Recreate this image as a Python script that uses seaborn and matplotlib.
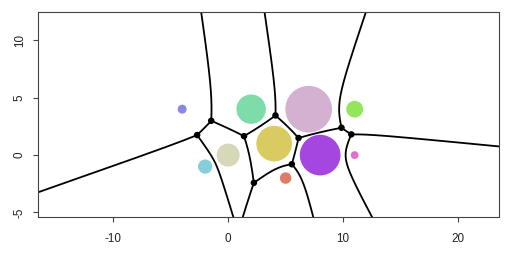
import numpy as np
import matplotlib
matplotlib.use("Agg")
import matplotlib.pyplot as plt
import seaborn as sns
import pandas as pd
from matplotlib.patches import Circle

# ---- data ----
site_x = [-4, -2, 0, 2, 4, 7, 8, 11, 11, 5]
site_y = [4, -1, 0, 4, 1, 4, 0, 4, 0, -2]
site_w = [0.39, 0.62, 1.0, 1.28, 1.55, 2.03, 1.77, 0.73, 0.34, 0.50]
site_colors = ["#8a88e0", "#87cedc", "#d6d8b8", "#7ddcaa", "#d9ca62",
               "#d4b1d1", "#a646e0", "#93e65a", "#e070c8", "#e07b67"]
x_ticks = [-10, 0, 10, 20]
y_ticks = [-5, 0, 5, 10]
x_lim = (-16.5, 23.57)
y_lim = (-5.4, 12.44)

sns.set_style("white")
plt.rcParams['font.family'] = ['Liberation Sans', 'DejaVu Sans']

P = np.c_[site_x, site_y].astype(float)
W = np.array(site_w, dtype=float)
n = len(W)

# ---- additively weighted (Apollonius) Voronoi edges ----
curves = []
ends = []
s = np.linspace(-90, 90, 120001)
for i in range(n):
    for j in range(i + 1, n):
        c = W[i] - W[j]
        D = P[j] - P[i]
        dist = np.hypot(*D)
        u = D / dist
        v = np.array([-u[1], u[0]])
        m = (P[i] + P[j]) / 2
        a = abs(c) / 2
        f = dist / 2
        if a >= f:
            continue
        b = np.sqrt(f * f - a * a)
        if a == 0:
            pts = m + s[:, None] * v
        else:
            t = np.arcsinh(s / b)
            pts = m + (np.sign(c) * a * np.cosh(t))[:, None] * u + s[:, None] * v
        dk = np.linalg.norm(pts[:, None, :] - P[None, :, :], axis=2) - W[None, :]
        vij = dk[:, i]
        others = np.delete(dk, [i, j], axis=1).min(axis=1)
        ok = others >= vij - 1e-12
        if not ok.any():
            continue
        idx = np.flatnonzero(np.diff(np.r_[0, ok.astype(int), 0]))
        for k0, k1 in zip(idx[::2], idx[1::2]):
            seg = pts[k0:k1]
            if len(seg) < 2:
                continue
            curves.append(seg)
            for e in (seg[0], seg[-1]):
                if x_lim[0] < e[0] < x_lim[1] and y_lim[0] < e[1] < y_lim[1]:
                    ends.append(e)

# dedupe vertices
verts = []
for e in ends:
    if not any(np.hypot(*(e - q)) < 0.15 for q in verts):
        verts.append(e)
verts = np.array(verts)
vdf = pd.DataFrame({"x": verts[:, 0], "y": verts[:, 1]})

fig = plt.figure(figsize=(5.12, 2.56), dpi=100)
ax = fig.add_axes([0.075, 0.152, 0.9, 0.8])

for xi, yi, wi, col in zip(site_x, site_y, site_w, site_colors):
    ax.add_patch(Circle((xi, yi), wi, facecolor=col, edgecolor="none", zorder=1))

for seg in curves:
    ax.plot(seg[:, 0], seg[:, 1], color="black", lw=1.3, zorder=2)

sns.scatterplot(data=vdf, x="x", y="y", ax=ax, color="black", s=22,
                edgecolor="none", zorder=3, legend=False)

ax.set_xlim(*x_lim)
ax.set_ylim(*y_lim)
ax.set_xlabel("")
ax.set_ylabel("")
ax.set_xticks(x_ticks)
ax.set_yticks(y_ticks)
ax.set_xticklabels([str(t) for t in x_ticks], fontsize=8.4)
ax.set_yticklabels([str(t) for t in y_ticks], fontsize=8.4, rotation=90, va="center")
ax.tick_params(axis="both", direction="out", length=3.6, width=0.8, color="#444444",
               labelcolor="#222222", left=True, bottom=True)
ax.tick_params(axis="x", pad=7.5)
ax.tick_params(axis="y", pad=5.5)
for sp in ax.spines.values():
    sp.set_visible(True)
    sp.set_color("#444444")
    sp.set_linewidth(0.8)

fig.savefig("out.png", dpi=100)
